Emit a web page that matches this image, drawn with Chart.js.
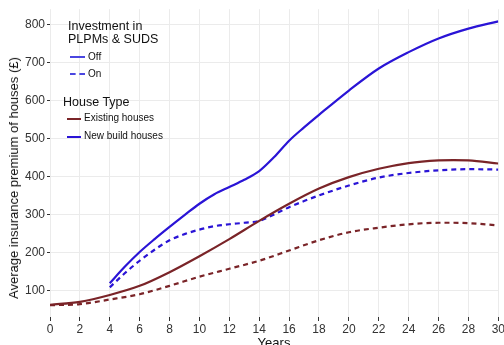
<!DOCTYPE html>
<html>
<head>
<meta charset="utf-8">
<script src="https://cdn.jsdelivr.net/npm/chart.js@4.4.1/dist/chart.umd.min.js"></script>
<style>
    html, body { margin: 0; padding: 0; background: #fff; overflow: hidden; }
    #wrap { position: relative; width: 504px; height: 345px; overflow: hidden; }
    #chart { position: absolute; left: 0; top: 0; }
    .txt { position: absolute; font-family: "Liberation Sans", Arial, sans-serif; color: #111; white-space: nowrap; }
    .lt { font-size: 12.5px; line-height: 13px; }
    .li { font-size: 10px; line-height: 12px; }
    .sw { position: absolute; height: 0; }
    #ytitle { font-size: 13px; line-height: 14px; left: 14px; top: 178px; transform: translate(-50%, -50%) rotate(-90deg); }
    #xtitle { font-size: 13px; line-height: 14px; left: 274px; top: 336px; transform: translateX(-50%); }
</style>
</head>
<body>
<div id="wrap">
    <canvas id="chart"></canvas>
    <div class="txt" id="ytitle">Average insurance premium of houses (£)</div>
    <div class="txt" id="xtitle">Years</div>
    <div class="txt lt" style="left:68px; top:20px;">Investment in</div>
    <div class="txt lt" style="left:68px; top:33px;">PLPMs &amp; SUDS</div>
    <div class="sw" style="left:70px; top:56px; width:15px; border-top:2px solid #4a46e0;"></div>
    <div class="txt li" style="left:88px; top:51px;">Off</div>
    <div class="sw" style="left:70px; top:73px; width:15px; border-top:2px dashed #4a46e0;"></div>
    <div class="txt li" style="left:88px; top:68px;">On</div>
    <div class="txt lt" style="left:63px; top:96px;">House Type</div>
    <div class="sw" style="left:67px; top:118px; width:14px; border-top:2px solid #7a2428;"></div>
    <div class="txt li" style="left:84px; top:112px;">Existing houses</div>
    <div class="sw" style="left:67px; top:136px; width:14px; border-top:2px solid #2a14d6;"></div>
    <div class="txt li" style="left:84px; top:130px;">New build houses</div>
</div>
<script>
// years and premiums
const yearsExisting = [0, 2, 4, 6, 8, 10, 12, 14, 16, 18, 20, 22, 24, 26, 27, 28, 30];
const existingOff   = [62, 70, 88, 112, 148, 190, 235, 283, 328, 368, 398, 420, 435, 442, 443, 442, 434];
const existingOn    = [61, 64, 76, 90, 112, 136, 157, 178, 205, 232, 253, 265, 274, 278, 278, 277, 271];

const yearsNew = [4, 5, 6, 7, 8, 9, 10, 11, 12, 13, 14, 15, 16, 17, 18, 20, 22, 24, 26, 28, 30];
const newOff   = [119, 162, 201, 235, 267, 298, 328, 353, 372, 391, 414, 451, 494, 529, 562, 626, 684, 727, 763, 789, 808];
const newOn    = [108, 145, 178, 207, 232, 248, 260, 269, 274, 278, 283, 300, 319, 335, 350, 376, 397, 409, 416, 419, 418];

const xTicks = [0, 2, 4, 6, 8, 10, 12, 14, 16, 18, 20, 22, 24, 26, 28, 30];
const yTicks = [100, 200, 300, 400, 500, 600, 700, 800];

const RED = '#7a2428';
const BLUE = '#2a14d6';

const pts = (xs, ys) => xs.map((x, i) => ({ x: x, y: ys[i] }));

function series(label, xs, ys, color, dashed) {
    return {
        label: label,
        data: pts(xs, ys),
        borderColor: color,
        backgroundColor: color,
        borderWidth: 2.2,
        borderDash: dashed ? [5, 4] : [],
        pointRadius: 0,
        cubicInterpolationMode: 'monotone',
        fill: false
    };
}

const canvas = document.getElementById('chart');
canvas.width = 506;
canvas.height = 345;

new Chart(canvas, {
    type: 'line',
    data: {
        datasets: [
            series('Existing houses Off', yearsExisting, existingOff, RED, false),
            series('Existing houses On', yearsExisting, existingOn, RED, true),
            series('New build houses Off', yearsNew, newOff, BLUE, false),
            series('New build houses On', yearsNew, newOn, BLUE, true)
        ]
    },
    options: {
        responsive: false,
        animation: false,
        layout: { padding: { top: 9, right: 0, left: 0, bottom: 0 } },
        plugins: { legend: { display: false }, tooltip: { enabled: false } },
        scales: {
            x: {
                type: 'linear',
                min: 0, max: 30,
                afterBuildTicks: (s) => { s.ticks = xTicks.map(v => ({ value: v })); },
                afterFit: (s) => { s.height = 28; },
                grid: { color: '#ebebeb', lineWidth: 1, tickColor: '#333', tickLength: 4 },
                border: { display: false },
                ticks: { color: '#333', font: { family: 'Liberation Sans', size: 12 }, padding: 1, maxRotation: 0, autoSkip: false }
            },
            y: {
                type: 'linear',
                min: 30, max: 840,
                afterBuildTicks: (s) => { s.ticks = yTicks.map(v => ({ value: v })); },
                afterFit: (s) => { s.width = 50; },
                grid: { color: '#ebebeb', lineWidth: 1, tickColor: '#333', tickLength: 3 },
                border: { display: false },
                ticks: { color: '#333', font: { family: 'Liberation Sans', size: 12 }, padding: 2 }
            }
        }
    }
});
</script>
</body>
</html>
